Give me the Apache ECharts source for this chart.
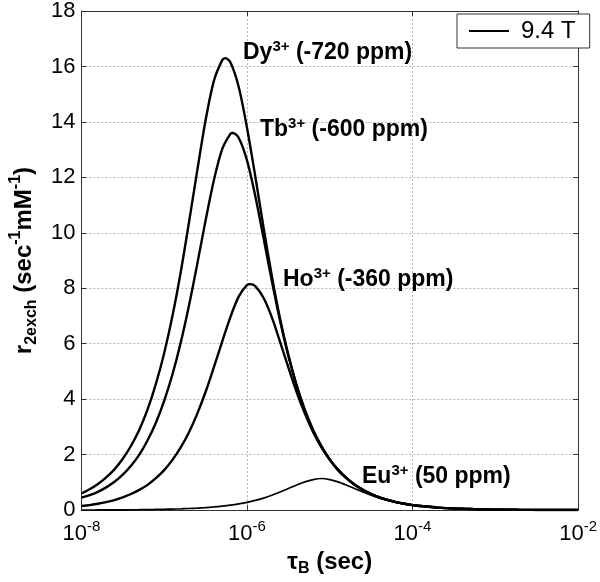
<!DOCTYPE html>
<html>
<head>
<meta charset="utf-8">
<script src="https://cdn.jsdelivr.net/npm/echarts@6/dist/echarts.min.js"></script>
<style>html,body{margin:0;padding:0;background:#fff}#c{width:600px;height:582px}</style>
</head>
<body>
<div id="c"></div>
<script>
// log10(tau_B / sec)
const tauExp = [-8.0,-7.9,-7.8,-7.7,-7.6,-7.5,-7.4,-7.3,-7.2,-7.1,-7.0,-6.9,-6.8,-6.7,-6.6,-6.5,-6.4,-6.3,-6.2,-6.1,-6.0,-5.9,-5.8,-5.7,-5.6,-5.5,-5.4,-5.3,-5.2,-5.1,-5.0,-4.9,-4.8,-4.7,-4.6,-4.5,-4.4,-4.3,-4.2,-4.1,-4.0,-3.9,-3.8,-3.7,-3.6,-3.5,-3.4,-3.3,-3.2,-3.1,-3.0,-2.9,-2.8,-2.7,-2.6,-2.5,-2.4,-2.3,-2.2,-2.1,-2.0];
const dy = [0.60,0.75,0.94,1.18,1.47,1.85,2.32,2.90,3.63,4.55,5.66,7.0,8.58,10.38,12.25,14.05,15.47,16.22,16.15,15.27,13.8,12.05,10.2,8.45,6.9,5.6,4.5,3.6,2.88,2.30,1.83,1.45,1.16,0.92,0.73,0.58,0.46,0.37,0.29,0.23,0.18,0.15,0.12,0.09,0.07,0.06,0.05,0.04,0.03,0.023,0.018,0.015,0.012,0.009,0.007,0.006,0.005,0.004,0.003,0.002,0.002];
const tb = [0.45,0.54,0.66,0.82,1.02,1.28,1.60,2.00,2.52,3.15,3.94,4.89,6.04,7.38,8.88,10.44,11.89,13.01,13.57,13.43,12.62,11.34,9.82,8.27,6.83,5.56,4.49,3.60,2.88,2.30,1.83,1.46,1.16,0.92,0.73,0.58,0.46,0.37,0.29,0.23,0.18,0.15,0.12,0.09,0.07,0.06,0.05,0.04,0.03,0.023,0.018,0.015,0.012,0.009,0.007,0.006,0.005,0.004,0.003,0.002,0.002];
const ho = [0.15,0.18,0.23,0.29,0.36,0.46,0.58,0.73,0.91,1.15,1.44,1.81,2.26,2.81,3.48,4.26,5.15,6.07,6.96,7.70,8.12,8.08,7.66,6.96,6.07,5.15,4.26,3.48,2.81,2.26,1.81,1.44,1.15,0.91,0.73,0.58,0.46,0.36,0.29,0.23,0.18,0.15,0.12,0.09,0.07,0.06,0.05,0.04,0.03,0.023,0.018,0.015,0.012,0.009,0.007,0.006,0.005,0.004,0.003,0.002,0.002];
const eu = [0.003,0.004,0.005,0.006,0.007,0.009,0.011,0.014,0.018,0.023,0.028,0.036,0.045,0.057,0.071,0.090,0.113,0.142,0.178,0.224,0.280,0.349,0.434,0.534,0.650,0.777,0.905,1.020,1.101,1.140,1.101,1.020,0.905,0.777,0.650,0.534,0.434,0.349,0.280,0.224,0.178,0.142,0.113,0.090,0.071,0.057,0.045,0.036,0.028,0.023,0.018,0.014,0.011,0.009,0.007,0.006,0.005,0.004,0.003,0.003,0.002];
// peak of each curve: [log10(tau), r2exch]
const dyPeak = [-6.26, 16.3];
const tbPeak = [-6.17, 13.6];
const hoPeak = [-5.96, 8.15];
const euPeak = [-5.1, 1.14];
const ions = ['Dy','Tb','Ho','Eu'];
const shifts = ['-720 ppm','-600 ppm','-360 ppm','50 ppm'];
const legendName = '9.4 T';

const FONT = "'Liberation Sans', Arial, Helvetica, sans-serif";
const chart = echarts.init(document.getElementById('c'), null, {renderer: 'canvas'});

function pairs(ys, peak) {
  const pts = tauExp.map((e, i) => [e, ys[i]]).filter(p => Math.abs(p[0] - peak[0]) > 1e-6);
  pts.push(peak.slice());
  pts.sort((a, b) => a[0] - b[0]);
  return pts;
}

const annRich = {
  b: {fontSize: 23, fontWeight: 'bold', fontFamily: FONT, color: '#000', lineHeight: 28},
  s: {fontSize: 15, fontWeight: 'bold', fontFamily: FONT, color: '#000', lineHeight: 12, verticalAlign: 'top'}
};
const annPos = [[243, 53], [260, 130], [283, 280], [362, 477]];

const option = {
  animation: false,
  backgroundColor: '#fff',
  grid: {left: 73, right: 20, top: 10, bottom: 67, containLabel: false},
  legend: {
    data: [legendName], left: 457, top: 14,
    backgroundColor: '#fff', borderColor: '#333', borderWidth: 1, borderRadius: 0,
    padding: [5, 14, 5, 12], icon: 'rect', itemWidth: 40, itemHeight: 2,
    itemStyle: {color: '#000'},
    textStyle: {fontSize: 24, lineHeight: 22, fontFamily: FONT, color: '#000', padding: [0, 0, 0, 7]}
  },
  xAxis: [{
    type: 'value', min: -8, max: -2, interval: 2,
    axisLine: {show: true, onZero: false, lineStyle: {color: '#333', width: 1}},
    axisTick: {show: true, inside: true, length: 5, lineStyle: {color: '#333'}},
    splitLine: {show: true, lineStyle: {type: [2, 2], color: '#b5b5b5', width: 1}},
    axisLabel: {
      margin: 9,
      formatter: v => '{b|10}{s|' + v + '}',
      rich: {
        b: {fontSize: 22, fontFamily: FONT, color: '#000', lineHeight: 30},
        s: {fontSize: 15, fontFamily: FONT, color: '#000', lineHeight: 9, verticalAlign: 'top'}
      }
    },
    name: '{t|τ}{u|B}{t| (sec)}', nameLocation: 'middle', nameGap: 34,
    nameTextStyle: {
      rich: {
        t: {fontSize: 24, fontWeight: 'bold', fontFamily: FONT, color: '#000', lineHeight: 30},
        u: {fontSize: 16, fontWeight: 'bold', fontFamily: FONT, color: '#000', lineHeight: 16, verticalAlign: 'bottom'}
      }
    }
  }, {
    type: 'value', position: 'top', min: -8, max: -2, interval: 2,
    axisLine: {show: true, onZero: false, lineStyle: {color: '#333', width: 1}},
    axisTick: {show: true, inside: true, length: 5, lineStyle: {color: '#333'}},
    axisLabel: {show: false}, splitLine: {show: false}
  }],
  yAxis: [{
    type: 'value', min: 0, max: 18, interval: 2,
    axisLine: {show: true, onZero: false, lineStyle: {color: '#333', width: 1}},
    axisTick: {show: true, inside: true, length: 5, lineStyle: {color: '#333'}},
    splitLine: {show: true, lineStyle: {type: [2, 2], color: '#b5b5b5', width: 1}},
    axisLabel: {margin: 6, fontSize: 22, fontFamily: FONT, color: '#000'},
    name: '{t|r}{d|2exch}{t| (sec}{p|-1}{t|mM}{p|-1}{t|)}',
    nameLocation: 'middle', nameRotate: 90, nameGap: 40,
    nameTextStyle: {
      rich: {
        t: {fontSize: 24, fontWeight: 'bold', fontFamily: FONT, color: '#000', lineHeight: 32},
        d: {fontSize: 16, fontWeight: 'bold', fontFamily: FONT, color: '#000', lineHeight: 18, verticalAlign: 'bottom'},
        p: {fontSize: 16, fontWeight: 'bold', fontFamily: FONT, color: '#000', lineHeight: 12, verticalAlign: 'top'}
      }
    }
  }, {
    type: 'value', position: 'right', min: 0, max: 18, interval: 2,
    axisLine: {show: true, onZero: false, lineStyle: {color: '#333', width: 1}},
    axisTick: {show: true, inside: true, length: 5, lineStyle: {color: '#333'}},
    axisLabel: {show: false}, splitLine: {show: false}
  }],
  series: [[dy, dyPeak], [tb, tbPeak], [ho, hoPeak], [eu, euPeak]].map((s, i) => ({
    name: legendName, type: 'line', xAxisIndex: 0, yAxisIndex: 0,
    data: pairs(s[0], s[1]), symbol: 'none', smooth: 0.3,
    lineStyle: {color: '#000', width: i === 3 ? 1.7 : 2.4},
    itemStyle: {color: '#000'}, z: 3
  })),
  graphic: ions.map((ion, i) => ({
    type: 'text', x: annPos[i][0], y: annPos[i][1], z: 10,
    style: {
      text: '{b|' + ion + '}{s|3+}{b| (' + shifts[i] + ')}',
      rich: annRich, align: 'left', verticalAlign: 'middle'
    }
  }))
};
chart.setOption(option);
</script>
</body>
</html>
